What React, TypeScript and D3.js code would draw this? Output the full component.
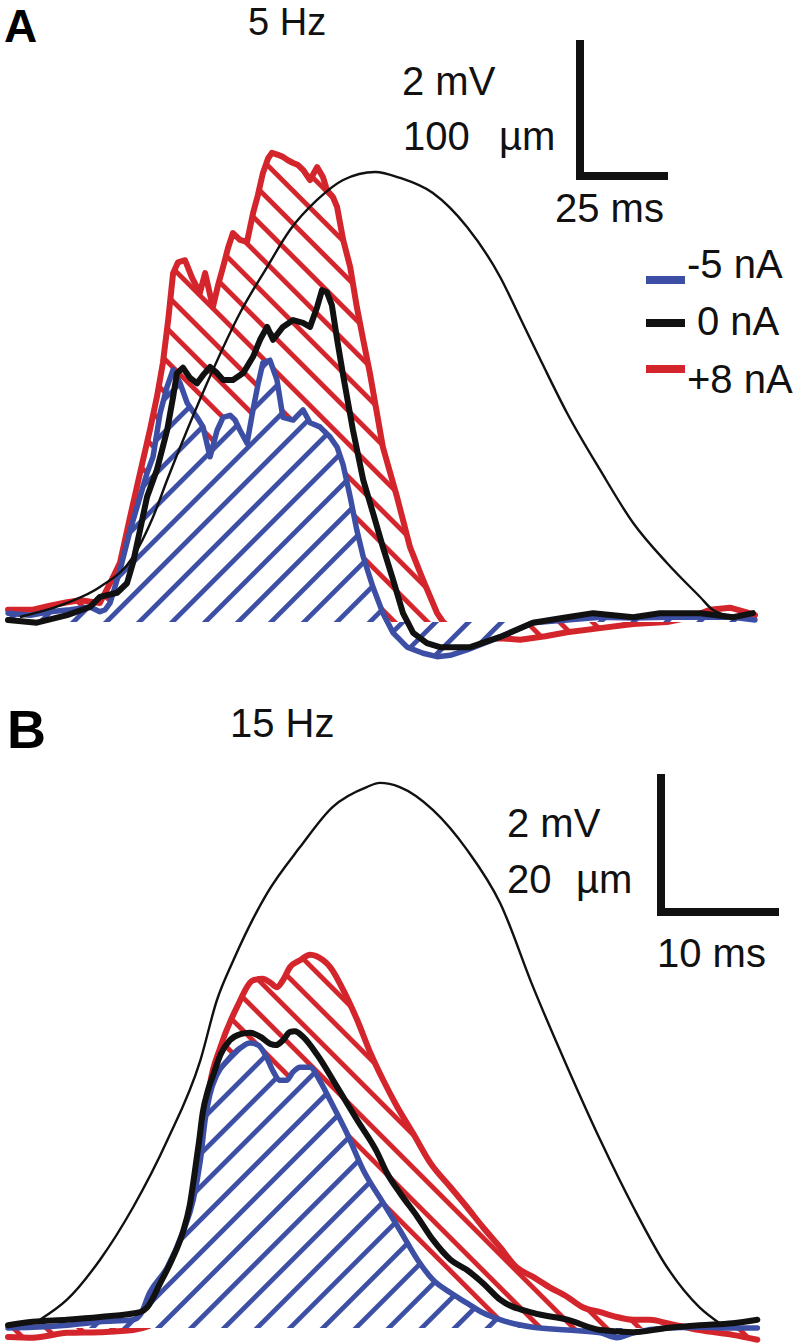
import React from 'react';
import * as d3 from 'd3';

type Pt = [number, number];

// ---------- Panel A (5 Hz) : [time ms, mV] ----------
const redA: Pt[] = [[0,0.18],[7.1,0.18],[11.9,0.24],[16.8,0.29],[20.5,0.32],[26.1,0.28],[29.0,0.57],[31.8,0.87],[34.7,1.55],[37.5,2.19],[40.3,2.82],[42.3,3.31],[44.0,3.81],[45.5,4.44],[46.9,5.13],[48.3,5.29],[50.3,5.32],[52.3,5.06],[54.5,4.84],[56.0,5.13],[58.2,4.63],[59.7,4.96],[61.1,5.22],[62.5,5.50],[63.9,5.72],[65.9,5.62],[67.9,5.59],[69.6,6.01],[71.0,6.28],[72.4,6.60],[73.9,6.82],[75.0,6.90],[76.7,6.87],[78.1,6.84],[79.5,6.79],[81.0,6.75],[82.4,6.72],[83.8,6.65],[85.8,6.50],[87.8,6.69],[89.5,6.54],[90.6,6.35],[92.3,6.25],[93.5,6.10],[95.2,5.62],[97.2,5.22],[99.1,4.63],[100.9,4.15],[102.8,3.66],[106.5,2.57],[110.5,1.84],[114.2,1.10],[117.9,0.62],[121.9,0.13],[123.6,0],[125.6,-0.09],[129.8,-0.24],[134.1,-0.26],[139.8,-0.24],[145.5,-0.26],[152.6,-0.21],[158.8,-0.15],[168.2,-0.09],[177.6,-0.03],[187.2,0.0],[193.8,0.07],[199.4,0.18],[205.1,0.21],[209.4,0.15],[212.2,0.10]];
const blueA: Pt[] = [[0,0.13],[6.3,0.10],[11.9,0.15],[17.6,0.18],[23.3,0.22],[26.1,0.15],[27.6,0.18],[29.0,0.28],[31.8,0.76],[34.7,1.35],[37.5,1.84],[39.5,2.19],[41.2,2.43],[43.2,3.07],[45.2,3.46],[46.9,3.71],[48.9,3.51],[50.9,3.22],[53.7,3.01],[55.4,2.87],[57.4,2.43],[59.4,2.82],[61.1,3.01],[63.1,3.04],[64.5,2.97],[65.9,2.82],[67.9,2.63],[69.6,3.12],[71.0,3.49],[72.4,3.81],[74.4,3.85],[76.4,3.56],[78.1,3.01],[81.0,2.97],[83.8,3.12],[85.8,2.93],[88.6,2.87],[91.5,2.72],[93.5,2.57],[95.2,2.31],[97.2,1.84],[99.1,1.35],[100.9,0.96],[103.7,0.51],[106.5,0.13],[109.4,-0.16],[113.4,-0.37],[117.9,-0.46],[121.9,-0.51],[125.6,-0.49],[130.4,-0.41],[139.8,-0.22],[149.1,-0.01],[158.8,0.03],[168.2,0.07],[177.6,0.06],[187.2,0.07],[196.6,0.07],[206.0,0.07],[212.2,0.03]];
const blackA: Pt[] = [[0,0.03],[8.2,-0.01],[16.8,0.10],[23.3,0.22],[26.1,0.37],[31.0,0.43],[33.8,0.57],[35.5,0.87],[37.5,1.35],[39.5,1.84],[42.3,2.24],[45.2,2.82],[46.9,3.31],[48.0,3.66],[49.7,3.74],[51.7,3.59],[53.7,3.51],[55.4,3.63],[57.4,3.75],[59.4,3.66],[61.1,3.56],[63.9,3.56],[66.8,3.66],[69.6,3.90],[71.6,4.15],[73.6,4.34],[75.3,4.15],[78.1,4.34],[81.0,4.44],[83.8,4.40],[85.8,4.34],[87.8,4.63],[89.2,4.88],[90.6,4.85],[92.0,4.66],[93.5,4.15],[95.2,3.63],[98.0,2.82],[100.9,2.09],[103.7,1.60],[106.5,1.10],[109.4,0.62],[112.2,0.13],[115.1,-0.16],[119.0,-0.31],[122.7,-0.37],[127.6,-0.37],[131.3,-0.37],[139.8,-0.22],[149.1,-0.01],[158.8,0.07],[166.2,0.13],[177.6,0.07],[185.2,0.13],[196.6,0.13],[206.0,0.07],[211.6,0.13]];
// stimulus displacement, [time ms, µm]
const sineA: Pt[] = [[3.4,3.7],[16.8,14.0],[26.1,25.7],[35.5,47.8],[41.2,77.2],[45.2,104.4],[50.9,141.2],[58.2,185.3],[65.9,227.2],[73.6,261.0],[80.1,288.2],[87.8,310.3],[95.2,325.0],[104.3,330.9],[111.4,326.5],[120.7,315.4],[130.4,290.4],[139.8,253.7],[145.5,223.5],[151.7,190.4],[158.8,153.7],[168.2,111.8],[177.6,72.8],[187.2,43.4],[196.6,18.4],[200.3,8.8],[206.5,3.7]];

// ---------- Panel B (15 Hz) : [time ms, mV] ----------
const redB: Pt[] = [[0,-0.13],[2.1,-0.14],[5.0,-0.07],[7.8,-0.06],[10.6,-0.03],[12.9,0.12],[14.15,0.55],[15.25,1.13],[15.9,1.71],[16.3,2.33],[16.7,3.01],[17.1,3.52],[18.0,4.07],[19.4,4.65],[20.8,5.04],[21.6,5.06],[22.2,5.01],[22.8,4.94],[23.3,5.04],[23.9,5.23],[24.75,5.33],[25.6,5.41],[26.7,5.33],[27.3,5.23],[28.4,4.90],[29.6,4.46],[30.7,3.99],[31.8,3.59],[33.0,3.20],[34.3,2.83],[35.8,2.39],[37.5,2.04],[38.9,1.75],[40.25,1.46],[41.7,1.17],[43.1,0.88],[44.5,0.74],[45.9,0.59],[47.4,0.45],[48.7,0.30],[50.2,0.23],[51.6,0.16],[53.0,0.12],[54.4,0.12],[55.85,0.07],[58.6,-0.03],[61.4,-0.10],[63.5,-0.17]];
const blueB: Pt[] = [[0,0],[2.1,0.01],[5.0,0.04],[7.8,0.09],[10.6,0.12],[11.2,0.19],[12.0,0.51],[13.5,0.88],[14.8,1.38],[15.7,1.86],[16.3,2.43],[16.7,3.01],[17.1,3.38],[17.7,3.67],[18.6,3.88],[19.7,4.06],[20.5,4.13],[21.2,4.10],[21.8,3.96],[22.5,3.71],[23.05,3.59],[23.6,3.59],[24.15,3.71],[24.75,3.78],[25.6,3.78],[26.4,3.59],[27.3,3.30],[28.7,2.83],[30.1,2.29],[31.8,1.81],[33.2,1.42],[34.7,0.99],[36.0,0.70],[37.5,0.51],[38.9,0.36],[40.25,0.22],[41.7,0.12],[44.5,0.01],[47.4,-0.03],[50.2,-0.07],[51.6,-0.14],[53.0,-0.07],[55.85,0],[58.6,0.01],[61.4,0],[63.5,0]];
const blackB: Pt[] = [[0,0.04],[2.1,0.09],[5.0,0.12],[7.8,0.16],[11.2,0.23],[11.8,0.30],[12.9,0.65],[14.0,1.03],[14.8,1.38],[15.4,1.78],[15.85,2.29],[16.2,2.72],[16.5,3.12],[16.95,3.45],[17.4,3.67],[18.0,3.96],[18.8,4.17],[19.7,4.26],[20.5,4.28],[21.4,4.22],[22.2,4.12],[22.7,4.10],[23.3,4.17],[23.9,4.29],[24.3,4.30],[25.0,4.22],[26.2,3.96],[27.9,3.49],[29.6,3.01],[31.3,2.54],[32.1,2.25],[33.2,1.96],[34.7,1.61],[36.0,1.28],[37.5,0.99],[38.9,0.84],[40.25,0.65],[41.7,0.41],[44.5,0.22],[47.4,0.12],[50.2,-0.03],[53.0,-0.06],[55.85,0],[58.6,0.04],[61.4,0.07],[63.5,0.12]];
const sineB: Pt[] = [[2.7,1.2],[5.0,4.1],[7.8,9.9],[10.6,17.5],[13.5,27.2],[16.3,38.8],[17.7,47.5],[19.1,53.3],[21.95,63.0],[24.75,69.7],[27.5,75.5],[30.4,78.4],[31.5,79.0],[33.2,78.4],[36.0,75.1],[38.9,69.3],[41.7,61.6],[44.5,49.4],[47.4,37.8],[50.2,27.2],[53.0,17.5],[55.85,8.8],[58.6,3.0],[60.3,0.7]];

const legendLabels = ['-5 nA', '0 nA', '+8 nA'];
const BLUE = '#3c4fa5';
const RED = '#d3252b';
const BLACK = '#111111';
const legendColors = [BLUE, BLACK, RED];

const FONT = "'Liberation Sans', Arial, Helvetica, sans-serif";

// scales
const xA = d3.scaleLinear().domain([0, 212.2]).range([8, 755]);
const yA = d3.scaleLinear().domain([0, 2]).range([622, 486]);
const xB = d3.scaleLinear().domain([0, 63.3]).range([8, 755]);
const yB = d3.scaleLinear().domain([0, 2]).range([1328, 1190]);

function Panel(props: {
  red: Pt[]; blue: Pt[]; black: Pt[]; sine: Pt[];
  x: d3.ScaleLinear<number, number>; y: d3.ScaleLinear<number, number>;
  umToMv: number; curve: d3.CurveFactory; id: string;
}) {
  const { red, blue, black, sine, x, y, umToMv, curve, id } = props;
  const line = d3.line<Pt>().x(d => x(d[0])).y(d => y(d[1])).curve(curve);
  const area = d3.area<Pt>().x(d => x(d[0])).y0(y(0)).y1(d => y(d[1])).curve(curve);
  const sLine = d3.line<Pt>().x(d => x(d[0])).y(d => y(d[1] * umToMv)).curve(d3.curveMonotoneX);
  return (
    <g>
      <path d={area(red) || ''} fill={`url(#hatchRed${id})`} />
      <path d={line(red) || ''} fill="none" stroke={RED} strokeWidth={6} strokeLinejoin="round" strokeLinecap="round" />
      <path d={area(blue) || ''} fill="#fff" />
      <path d={area(blue) || ''} fill={`url(#hatchBlue${id})`} />
      <path d={line(blue) || ''} fill="none" stroke={BLUE} strokeWidth={5.5} strokeLinejoin="round" strokeLinecap="round" />
      <path d={sLine(sine) || ''} fill="none" stroke={BLACK} strokeWidth={2.4} />
      <path d={line(black) || ''} fill="none" stroke={BLACK} strokeWidth={6} strokeLinejoin="round" strokeLinecap="round" />
    </g>
  );
}

function Hatch({ id, color, angle }: { id: string; color: string; angle: number }) {
  const p = 23.3;
  return (
    <pattern id={id} patternUnits="userSpaceOnUse" width={p} height={p} patternTransform={`rotate(${angle})`}>
      <rect x={0} y={0} width={4.8} height={p} fill={color} />
    </pattern>
  );
}

export default function App() {
  const barAx = 580, barAy = 176;
  const barAh = yA(0) - yA(2);
  const barAw = xA(25) - xA(0);
  const barBx = 661, barBy = 912;
  const barBh = yB(0) - yB(2);
  const barBw = xB(10) - xB(0);
  const legendY = [280, 323, 369];
  const legendTextY = [278, 335, 393];
  const legendTextX = [687, 697, 687];

  return (
    <svg width={798} height={1344} style={{ position: 'absolute', left: 0, top: 0, background: '#fff' }} fontFamily={FONT}>
      <defs>
        <Hatch id="hatchRedA" color={RED} angle={-45} />
        <Hatch id="hatchBlueA" color={BLUE} angle={45} />
        <Hatch id="hatchRedB" color={RED} angle={-45} />
        <Hatch id="hatchBlueB" color={BLUE} angle={45} />
      </defs>
      <rect x={0} y={0} width={798} height={1344} fill="#fff" />

      {/* Panel A */}
      <Panel red={redA} blue={blueA} black={blackA} sine={sineA} x={xA} y={yA} umToMv={2 / 100} curve={d3.curveLinear} id="A" />
      <text x={4} y={42} fontSize={46} fontWeight="bold" fill="#000">A</text>
      <text x={248} y={35} fontSize={38} fill="#111">5 Hz</text>
      <text x={402} y={95} fontSize={40} fill="#111">2 mV</text>
      <text x={403} y={150} fontSize={40} fill="#111">100</text>
      <text x={499} y={150} fontSize={40} fill="#111">µm</text>
      <text x={555} y={222} fontSize={40} fill="#111">25 ms</text>
      <path d={`M${barAx},${barAy - barAh} V${barAy} H${barAx + barAw}`} fill="none" stroke={BLACK} strokeWidth={8} strokeLinejoin="miter" />
      {legendLabels.map((lab, i) => (
        <g key={lab}>
          <line x1={646} x2={685} y1={legendY[i]} y2={legendY[i]} stroke={legendColors[i]} strokeWidth={8} />
          <text x={legendTextX[i]} y={legendTextY[i]} fontSize={40} fill="#111">{lab}</text>
        </g>
      ))}

      {/* Panel B */}
      <Panel red={redB} blue={blueB} black={blackB} sine={sineB} x={xB} y={yB} umToMv={2 / 20} curve={d3.curveMonotoneX} id="B" />
      <text x={7} y={748} fontSize={54} fontWeight="bold" fill="#000">B</text>
      <text x={230} y={737} fontSize={40} fill="#111">15 Hz</text>
      <text x={507} y={837} fontSize={40} fill="#111">2 mV</text>
      <text x={507} y={893} fontSize={40} fill="#111">20</text>
      <text x={576} y={893} fontSize={40} fill="#111">µm</text>
      <text x={657} y={967} fontSize={40} fill="#111">10 ms</text>
      <path d={`M${barBx},${barBy - barBh} V${barBy} H${barBx + barBw}`} fill="none" stroke={BLACK} strokeWidth={8} strokeLinejoin="miter" />
    </svg>
  );
}
